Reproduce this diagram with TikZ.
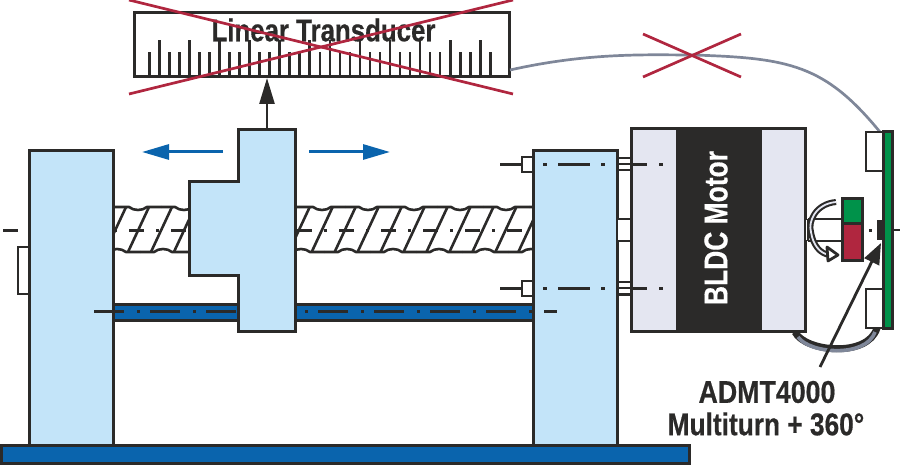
\documentclass[tikz,border=0pt]{standalone}
\usepackage{fontspec}
\setmainfont{Liberation Sans}[BoldFeatures={FakeBold=.5}]
\usetikzlibrary{arrows.meta}
\definecolor{inkdark}{HTML}{2B2A29}
\definecolor{partblue}{HTML}{C3E4F9}
\definecolor{railblue}{HTML}{0A64AD}
\definecolor{crossred}{HTML}{B0263F}
\definecolor{magnetgreen}{HTML}{00924A}
\definecolor{cablegray}{HTML}{7F8799}
\definecolor{motorgray}{HTML}{E4E6F1}
\tikzset{
  part/.style={draw=inkdark,line width=3pt,fill=partblue},
  plain/.style={draw=inkdark,line width=2.6pt,fill=white},
  thread/.style={draw=inkdark,line width=2.6pt},
  railaxis/.style={draw=inkdark,line width=3pt,dash pattern=on 30pt off 13pt on 3pt off 10pt},
  screwaxis/.style={draw=inkdark,line width=2.4pt,dash pattern=on 15pt off 12pt on 3pt off 12pt},
  crossline/.style={draw=crossred,line width=2.7pt},
  motionarrow/.style={draw=railblue,line width=3pt,-{Triangle[length=27pt,width=15pt]}},
  bigtext/.style={font=\bfseries\fontsize{31.5}{32}\selectfont,text=inkdark,inner sep=0pt},
}
\begin{document}
\begin{tikzpicture}[x=1pt,y=-1pt,line width=3pt,line join=miter]
\useasboundingbox (0,0) rectangle (900,465);
\coordinate (scalebottom) at (267,78);\coordinate (carriagetop) at (267,130);
\coordinate (sensorpoint) at (881,243);\coordinate (sensorarrow) at (820,367);
\coordinate (scalecable) at (510,70);\coordinate (boardcable) at (880,132);
\draw[part,fill=white] (134,13) rectangle (509,77);
\foreach \n in {0,...,34} {\draw[thread] (149.3+10.03*\n,77)--(149.3+10.03*\n,52);}
\foreach \n in {1,4,7,10,13,16,18,21,24,27,30,33} {\draw[thread] (149.3+10.03*\n,77)--(149.3+10.03*\n,40);}
\node[bigtext,xscale=.82] (scalelabel) at (323.5,30) {Linear Transducer};
\draw[draw=cablegray,line width=2.7pt] (scalecable) .. controls (590,52) and (650,55) .. (693,55) .. controls (790,58) and (825,65) .. (boardcable);
\draw[part,fill=railblue] (113,304) rectangle (533,320);
\foreach \x in {138,184,...,552} {\draw[thread] (\x-23,207)--(\x-9,207) .. controls (\x-4,211) and (\x+4,211) .. (\x+9,207)--(\x+23,207);}
\foreach \x in {117,163,...,531} {\draw[thread] (\x-23,252)--(\x-9,252) .. controls (\x-4,248) and (\x+4,248) .. (\x+9,252)--(\x+23,252);}
\foreach \n in {-1,...,17} {\draw[thread] (128+22.96*\n,252)--(149+22.96*\n,207);}
\draw[screwaxis] (3,230.5)--(533,230.5);
\draw[railaxis] (94,311.5)--(533,311.5);
\draw[plain] (18,247) rectangle (29,294);
\draw[part] (29,151) rectangle (113,445);
\draw[part] (238,130)--(295,130)--(295,331)--(238,331)--(238,276)--(189,276)--(189,182)--(238,182)--cycle;
\draw[part] (533,151) rectangle (617,445);
\draw[part,fill=railblue] (1,445.5) rectangle (689,463.5);
\draw[thread] (544,311.5)--(557,311.5);
\draw[-{Triangle[length=26pt,width=15pt]},draw=inkdark,fill=inkdark,line width=2.6pt] (carriagetop)--(scalebottom);
\draw[motionarrow] (223,152)--(142,152);
\draw[motionarrow] (309,152)--(390,152);
\draw[railaxis] (94,311.5)--(124,311.5);
\foreach \y in {164.5,288.5} {
  \draw[plain] (522,\y-7.5) rectangle (533,\y+7.5);
  \draw[thread] (500,\y)--(522,\y);
  \draw[thread] (543,\y)--(547,\y);\draw[thread] (558,\y)--(590,\y);\draw[thread] (601,\y)--(605,\y);
  \draw[draw=inkdark,line width=2pt] (617,\y-6)--(631,\y-6);\draw[draw=inkdark,line width=2pt] (617,\y+6)--(631,\y+6);
  \draw[draw=inkdark,line width=2pt] (617,\y)--(631,\y);
}
\draw[plain] (617,219) rectangle (631,241);
\draw[part,fill=motorgray] (631,129) rectangle (805,331);
\fill[inkdark] (676,129) rectangle (762,331);
\foreach \y in {164.5,288.5} {\draw[thread] (631,\y)--(647,\y);\draw[thread] (659,\y)--(663,\y);}
\node[font=\bfseries\fontsize{33}{34}\selectfont,text=white,inner sep=0pt,rotate=90,xscale=.8] (motorlabel) at (716,228) {BLDC Motor};
\draw[draw=inkdark,line width=7pt] (795,332) .. controls (805,352) and (868,358) .. (877,328);
\draw[draw=cablegray,line width=3.6pt] (798,337) .. controls (810,354) and (866,358) .. (875,332);
\fill[white] (806,220) rectangle (842,240);
\draw[draw=inkdark,line width=2.4pt] (808,219)--(842,219);\draw[draw=inkdark,line width=2.4pt] (808,241)--(842,241);\draw[draw=inkdark,line width=2.4pt] (808,219)--(808,241);
\draw[draw=inkdark,fill=magnetgreen] (842,199) rectangle (862,224);
\draw[draw=inkdark,fill=crossred] (842,224) rectangle (862,261);
\draw[draw=inkdark,line width=6pt] (836,202) .. controls (815,204) and (808,222) .. (811,232) .. controls (813,245) and (820,254) .. (830,255);
\draw[draw=motorgray,line width=1.8pt] (836,202) .. controls (815,204) and (808,222) .. (811,232) .. controls (813,245) and (820,254) .. (830,255);
\draw[draw=inkdark,fill=white,line width=2.8pt,line join=round] (827,247)--(838,255)--(828,261)--cycle;
\draw[plain] (866,132) rectangle (883,171);
\draw[plain] (866,289) rectangle (883,328);
\draw[draw=inkdark,fill=magnetgreen] (883,132) rectangle (892,328);
\fill[inkdark] (876.5,220) rectangle (883,240);
\fill[inkdark] (869,229) rectangle (872,232);
\draw[thread] (892,230)--(900,230);
\draw[draw=inkdark,line width=2.8pt,-{Triangle[length=21pt,width=16pt]},fill=inkdark] (sensorarrow)--(sensorpoint);
\draw[crossline] (129,0)--(513,94);\draw[crossline] (129,94)--(513,0);
\draw[crossline] (643,34)--(741,77);\draw[crossline] (643,77)--(741,34);
\node[bigtext,xscale=.85] (sensorname) at (767,392) {ADMT4000};
\node[bigtext,xscale=.834] (sensorkind) at (766,424) {Multiturn + 360°};
\end{tikzpicture}
\end{document}
